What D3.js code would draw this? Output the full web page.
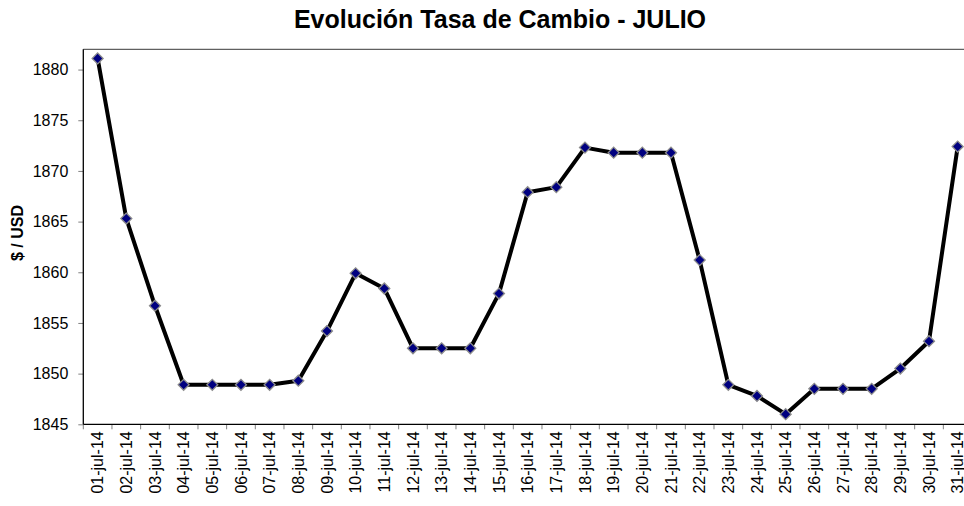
<!DOCTYPE html>
<html><head><meta charset="utf-8">
<script src="https://cdn.jsdelivr.net/npm/d3@7"></script>
<style>
html,body{margin:0;padding:0;background:#fff;overflow:hidden}
text{font-family:Arial,"Liberation Sans",sans-serif}
</style></head>
<body><svg id="c" width="964" height="506"></svg>
<script>
const title = "Evolución Tasa de Cambio - JULIO";
const yLabel = "$ / USD";
const dates = ["01-jul-14","02-jul-14","03-jul-14","04-jul-14","05-jul-14","06-jul-14","07-jul-14","08-jul-14","09-jul-14","10-jul-14","11-jul-14","12-jul-14","13-jul-14","14-jul-14","15-jul-14","16-jul-14","17-jul-14","18-jul-14","19-jul-14","20-jul-14","21-jul-14","22-jul-14","23-jul-14","24-jul-14","25-jul-14","26-jul-14","27-jul-14","28-jul-14","29-jul-14","30-jul-14","31-jul-14"];
const rates = [1881.1,1865.3,1856.7,1848.9,1848.9,1848.9,1848.9,1849.3,1854.2,1859.9,1858.4,1852.5,1852.5,1852.5,1857.9,1867.9,1868.4,1872.3,1871.8,1871.8,1871.8,1861.2,1848.9,1847.8,1846.0,1848.5,1848.5,1848.5,1850.5,1853.2,1872.4];
const yTicks = [1845,1850,1855,1860,1865,1870,1875,1880];
const yDomain = [1845,1882];

const svg = d3.select("#c");
const L = 83.3, T = 49.3, B = 424.3, R = 972;

const x = d3.scaleBand().domain(dates).range([L, R]).padding(0);
const y = d3.scaleLinear().domain(yDomain).range([B, T]);

svg.append("text").attr("x", 500).attr("y", 28).attr("text-anchor","middle")
  .attr("font-size", 25).attr("font-weight","bold").attr("fill","#000").text(title);

// plot border top
svg.append("line").attr("x1",L).attr("x2",R).attr("y1",T).attr("y2",T).attr("stroke","#606060").attr("stroke-width",1.3);

// y axis
const ya = svg.append("g").attr("transform",`translate(${L},0)`)
  .call(d3.axisLeft(y).tickValues(yTicks).tickSize(5).tickPadding(10).tickFormat(d3.format("d")));
ya.select(".domain").remove();
ya.selectAll(".tick line").attr("stroke","#808080");
ya.selectAll(".tick text").attr("font-size",16).attr("fill","#000").attr("font-family","Arial, 'Liberation Sans', sans-serif");
svg.append("line").attr("x1",L).attr("x2",L).attr("y1",T).attr("y2",B).attr("stroke","#000").attr("stroke-width",1.3);

// x axis
const xa = svg.append("g").attr("transform",`translate(0,${B})`)
  .call(d3.axisBottom(x).tickSize(0).tickPadding(0));
xa.select(".domain").remove();
xa.selectAll(".tick line").remove();
xa.selectAll(".tick text").attr("font-size",16).attr("fill","#000")
  .attr("font-family","Arial, 'Liberation Sans', sans-serif")
  .attr("transform","rotate(-90)").attr("text-anchor","end")
  .attr("x",-7).attr("y",0).attr("dy","0.35em");
// category boundary ticks
const bounds = dates.map(d => x(d)).concat([R]);
svg.append("g").selectAll("line").data(bounds).join("line")
  .attr("x1",d=>d).attr("x2",d=>d).attr("y1",B).attr("y2",B+5).attr("stroke","#808080");
svg.append("line").attr("x1",L).attr("x2",R).attr("y1",B).attr("y2",B).attr("stroke","#000").attr("stroke-width",1.3);

// y label
svg.append("text").attr("transform",`translate(23,233) rotate(-90)`).attr("text-anchor","middle")
  .attr("font-size",16).attr("font-weight","bold").attr("fill","#000").text(yLabel);

const cx = d => x(d) + x.bandwidth()/2;
const line = d3.line().x((d,i)=>cx(dates[i])).y(d=>y(d));
svg.append("path").datum(rates).attr("d",line).attr("fill","none")
  .attr("stroke","#000").attr("stroke-width",4).attr("stroke-linejoin","round");

svg.append("g").selectAll("path").data(rates).join("path")
  .attr("d", d3.symbol().type(d3.symbolSquare).size(60))
  .attr("transform",(d,i)=>`translate(${cx(dates[i])},${y(d)}) rotate(45)`)
  .attr("fill","#000080").attr("stroke","#8c8c8c").attr("stroke-width",1.3);
</script></body></html>
